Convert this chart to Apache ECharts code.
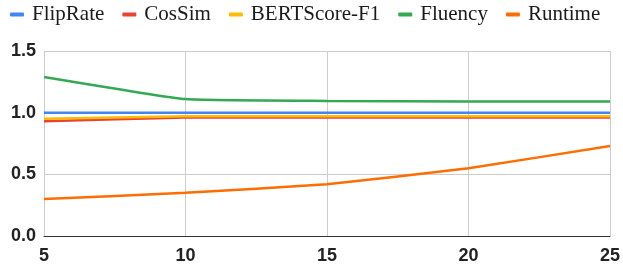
<!DOCTYPE html>
<html>
<head>
<meta charset="utf-8">
<script src="https://cdn.jsdelivr.net/npm/echarts@6/dist/echarts.min.js"></script>
<style>
  html, body { margin: 0; padding: 0; background: #fff; }
  #chart { width: 623px; height: 268px; }
</style>
</head>
<body>
<div id="chart"></div>
<script>
// x positions (categories on a value axis)
var xs = [5, 10, 15, 20, 25];
var flipRate = [1.0, 1.0, 1.0, 1.0, 1.0];
var cosSim = [0.93, 0.96, 0.96, 0.96, 0.96];
var bertF1 = [0.95, 0.97, 0.97, 0.97, 0.97];
var fluency = [1.29, 1.11, 1.095, 1.09, 1.09];
var runtime = [0.30, 0.35, 0.42, 0.55, 0.73];
var yTicks = [0, 0.5, 1.0, 1.5];

var names = ['FlipRate', 'CosSim', 'BERTScore-F1', 'Fluency', 'Runtime'];
var colors = ['#4285F4', '#EA4335', '#FBBC04', '#34A853', '#FF6D01'];
var values = [flipRate, cosSim, bertF1, fluency, runtime];

function pairs(v) {
  var out = [];
  for (var i = 0; i < xs.length; i++) out.push([xs[i], v[i]]);
  return out;
}

var series = [];
for (var i = 0; i < names.length; i++) {
  series.push({
    name: names[i],
    type: 'line',
    data: pairs(values[i]),
    smooth: 0.12,
    symbol: 'none',
    color: colors[i],
    lineStyle: { width: 2.5, color: colors[i] }
  });
}

var chart = echarts.init(document.getElementById('chart'));
chart.setOption({
  animation: false,
  legend: {
    data: names,
    top: 4,
    left: 10,
    padding: 0,
    itemWidth: 14,
    itemHeight: 4,
    itemGap: 18,
    icon: 'roundRect',
    textStyle: { fontFamily: 'Liberation Serif', fontSize: 21, color: '#1a1a1a', padding: [0, 0, 0, 3] }
  },
  grid: { left: 44, right: 11, top: 51, bottom: 32 },
  xAxis: {
    type: 'value',
    min: 5, max: 25, interval: 5,
    axisLine: { lineStyle: { color: '#333', width: 1 } },
    axisTick: { show: false },
    splitLine: { lineStyle: { color: '#ccc' } },
    axisLabel: { fontFamily: 'Liberation Sans', fontWeight: 'bold', fontSize: 18, color: '#222', margin: 11 }
  },
  yAxis: {
    type: 'value',
    min: yTicks[0], max: yTicks[yTicks.length - 1], interval: 0.5,
    axisLine: { show: false },
    axisTick: { show: false },
    splitLine: { lineStyle: { color: '#ccc' } },
    axisLabel: {
      fontFamily: 'Liberation Sans', fontWeight: 'bold', fontSize: 18, color: '#222', margin: 8,
      formatter: function (v) { return v.toFixed(1); }
    }
  },
  series: series
});
</script>
</body>
</html>
